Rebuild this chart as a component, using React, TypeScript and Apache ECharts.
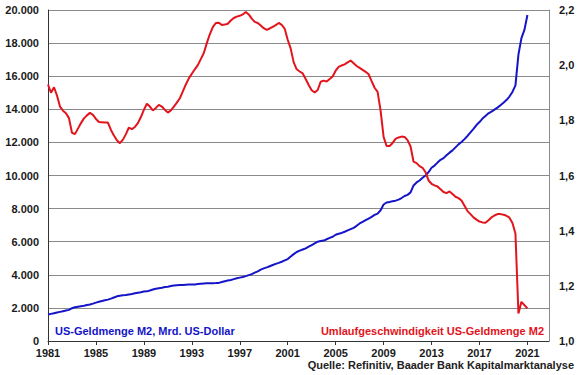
import React, { useEffect, useRef } from "react";
import * as echarts from "echarts";

// Quarterly data, first value = 1981 Q1
const START_YEAR = 1981;

// US money stock M2, bn USD (quarterly)
const m2Billions = [
  1600, 1640, 1680, 1720, // 1981
  1760, 1800, 1840, 1880, // 1982
  1980, 2040, 2070, 2100, // 1983
  2130, 2170, 2210, 2260, // 1984
  2320, 2370, 2420, 2460, // 1985
  2500, 2560, 2630, 2700, // 1986
  2740, 2760, 2780, 2810, // 1987
  2840, 2880, 2920, 2950, // 1988
  2990, 3000, 3050, 3110, // 1989
  3160, 3190, 3220, 3260, // 1990
  3280, 3320, 3350, 3370, // 1991
  3380, 3390, 3400, 3410, // 1992
  3420, 3420, 3440, 3460, // 1993
  3480, 3490, 3490, 3495, // 1994
  3500, 3510, 3560, 3610, // 1995
  3650, 3690, 3740, 3790, // 1996
  3830, 3870, 3920, 3980, // 1997
  4040, 4130, 4210, 4310, // 1998
  4390, 4450, 4520, 4590, // 1999
  4660, 4720, 4790, 4870, // 2000
  4950, 5100, 5250, 5380, // 2001
  5460, 5530, 5600, 5700, // 2002
  5800, 5900, 6000, 6040, // 2003
  6070, 6150, 6230, 6300, // 2004
  6420, 6480, 6530, 6600, // 2005
  6680, 6760, 6840, 6960, // 2006
  7100, 7200, 7300, 7400, // 2007
  7500, 7620, 7700, 7900, // 2008
  8250, 8370, 8400, 8450, // 2009
  8480, 8540, 8640, 8760, // 2010
  8830, 8980, 9400, 9580, // 2011
  9700, 9860, 10000, 10200, // 2012
  10470, 10600, 10780, 10950, // 2013
  11050, 11220, 11380, 11520, // 2014
  11700, 11880, 12020, 12200, // 2015
  12390, 12600, 12820, 13050, // 2016
  13230, 13440, 13600, 13760, // 2017
  13860, 13980, 14100, 14250, // 2018
  14400, 14560, 14770, 15050, // 2019
  15450, 17300, 18300, 18800, // 2020
  19700, // 2021
];

// Velocity of M2 (quarterly)
const velocityM2 = [
  1.93, 1.9, 1.92, 1.89, // 1981
  1.85, 1.835, 1.826, 1.808, // 1982
  1.755, 1.75, 1.77, 1.79, // 1983
  1.807, 1.818, 1.827, 1.82, // 1984
  1.805, 1.794, 1.793, 1.792, // 1985
  1.792, 1.765, 1.745, 1.728, // 1986
  1.717, 1.73, 1.75, 1.774, // 1987
  1.768, 1.776, 1.79, 1.812, // 1988
  1.838, 1.86, 1.85, 1.836, // 1989
  1.845, 1.856, 1.85, 1.838, // 1990
  1.828, 1.836, 1.85, 1.864, // 1991
  1.88, 1.905, 1.93, 1.952, // 1992
  1.969, 1.985, 2.0, 2.022, // 1993
  2.044, 2.08, 2.112, 2.138, // 1994
  2.153, 2.154, 2.146, 2.147, // 1995
  2.15, 2.162, 2.171, 2.176, // 1996
  2.179, 2.184, 2.193, 2.184, // 1997
  2.169, 2.157, 2.153, 2.144, // 1998
  2.134, 2.128, 2.133, 2.139, // 1999
  2.145, 2.153, 2.146, 2.132, // 2000
  2.092, 2.06, 2.01, 1.985, // 2001
  1.977, 1.97, 1.95, 1.928, // 2002
  1.909, 1.901, 1.91, 1.94, // 2003
  1.944, 1.941, 1.95, 1.959, // 2004
  1.98, 1.994, 1.999, 2.003, // 2005
  2.01, 2.017, 2.007, 1.997, // 2006
  1.99, 1.983, 1.976, 1.967, // 2007
  1.942, 1.918, 1.903, 1.835, // 2008
  1.74, 1.707, 1.707, 1.718, // 2009
  1.733, 1.738, 1.741, 1.74, // 2010
  1.728, 1.705, 1.65, 1.645, // 2011
  1.634, 1.628, 1.612, 1.582, // 2012
  1.57, 1.564, 1.56, 1.55, // 2013
  1.54, 1.536, 1.542, 1.533, // 2014
  1.523, 1.518, 1.509, 1.49, // 2015
  1.471, 1.46, 1.448, 1.44, // 2016
  1.433, 1.43, 1.429, 1.438, // 2017
  1.448, 1.455, 1.46, 1.46, // 2018
  1.458, 1.454, 1.447, 1.428, // 2019
  1.39, 1.1, 1.142, 1.13, // 2020
  1.118, // 2021
];

const m2Label = "US-Geldmenge M2, Mrd. US-Dollar";
const velocityLabel = "Umlaufgeschwindigkeit US-Geldmenge M2";
const sourceLabel = "Quelle: Refinitiv, Baader Bank Kapitalmarktanalyse";

const BLUE = "#1414c8";
const RED = "#e2141c";
const TEXT = "#1a1a1a";
const FONT = '"Liberation Sans", Arial, sans-serif';

export default function App() {
  const ref = useRef<HTMLDivElement>(null);

  useEffect(() => {
    if (!ref.current) return;
    const chart = echarts.init(ref.current, null, { renderer: "svg" });
    const toPairs = (arr: number[]) => arr.map((v, i) => [START_YEAR + i / 4, v]);
    const labelStyle = {
      color: TEXT,
      fontWeight: "bold" as const,
      fontSize: 11,
      fontFamily: FONT,
    };
    chart.setOption({
      animation: false,
      backgroundColor: "#ffffff",
      grid: { left: 48, right: 31, top: 10, bottom: 34, containLabel: false },
      xAxis: {
        type: "value",
        min: 1981,
        max: 2022.8,
        interval: 4,
        axisLine: { show: true, lineStyle: { color: "#333333", width: 1 } },
        axisTick: { show: true, length: 4, lineStyle: { color: "#333333" } },
        splitLine: { show: false },
        axisLabel: {
          ...labelStyle,
          margin: 6,
          showMaxLabel: false,
          formatter: (v: number) => String(Math.round(v)),
        },
      },
      yAxis: [
        {
          type: "value",
          min: 0,
          max: 20000,
          interval: 2000,
          axisLine: { show: true, lineStyle: { color: "#333333", width: 1 } },
          axisTick: { show: false },
          splitLine: { show: true, lineStyle: { color: "#8a8a8a", width: 1 } },
          axisLabel: {
            ...labelStyle,
            margin: 9,
            formatter: (v: number) =>
              String(Math.round(v)).replace(/\B(?=(\d{3})+(?!\d))/g, "."),
          },
        },
        {
          type: "value",
          position: "right",
          min: 1,
          max: 2.2,
          interval: 0.2,
          axisLine: { show: true, lineStyle: { color: "#8a8a8a", width: 1 } },
          axisTick: { show: false },
          splitLine: { show: false },
          axisLabel: {
            ...labelStyle,
            margin: 10,
            formatter: (v: number) => v.toFixed(1).replace(".", ","),
          },
        },
      ],
      series: [
        {
          name: m2Label,
          type: "line",
          yAxisIndex: 0,
          data: toPairs(m2Billions),
          showSymbol: false,
          lineStyle: { color: BLUE, width: 2 },
          itemStyle: { color: BLUE },
          z: 2,
        },
        {
          name: velocityLabel,
          type: "line",
          yAxisIndex: 1,
          data: toPairs(velocityM2),
          showSymbol: false,
          lineStyle: { color: RED, width: 2 },
          itemStyle: { color: RED },
          z: 3,
        },
      ],
      graphic: [
        {
          type: "text",
          x: 55,
          y: 331,
          style: {
            text: m2Label,
            fill: BLUE,
            font: `bold 11px ${FONT}`,
            align: "left",
            verticalAlign: "middle",
          },
        },
        {
          type: "text",
          x: 544,
          y: 331,
          style: {
            text: velocityLabel,
            fill: RED,
            font: `bold 11px ${FONT}`,
            align: "right",
            verticalAlign: "middle",
          },
        },
        {
          type: "text",
          x: 574,
          y: 365,
          style: {
            text: sourceLabel,
            fill: "#222222",
            font: `bold 11px ${FONT}`,
            align: "right",
            verticalAlign: "middle",
          },
        },
      ],
    });
    return () => chart.dispose();
  }, []);

  return (
    <div
      ref={ref}
      style={{ position: "fixed", left: 0, top: 0, width: 580, height: 375 }}
    />
  );
}
